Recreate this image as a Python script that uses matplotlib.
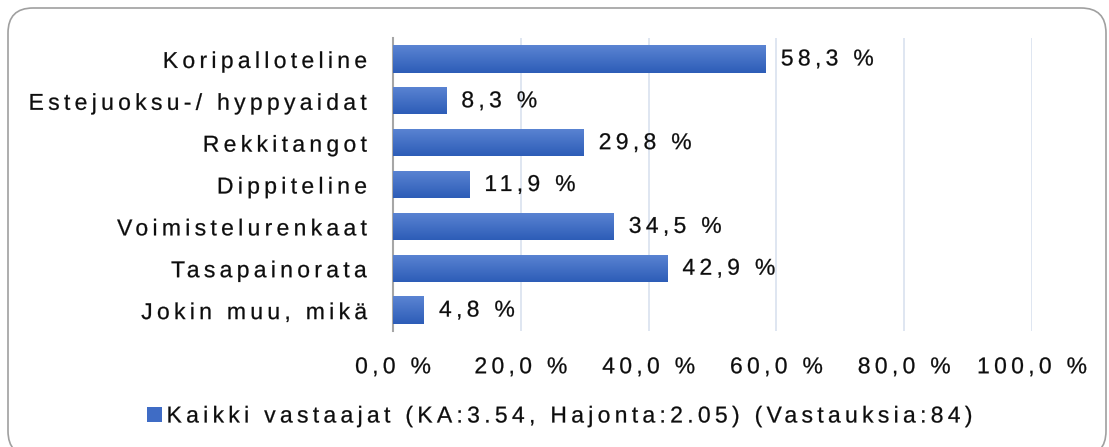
"""Horizontal bar chart: share of respondents per equipment type."""

import matplotlib
matplotlib.use("Agg")
import matplotlib.pyplot as plt
import numpy as np
from matplotlib.patches import FancyBboxPatch, Patch
from matplotlib.colors import LinearSegmentedColormap
from matplotlib.patheffects import AbstractPathEffect
from matplotlib.path import Path
from matplotlib.textpath import text_to_path

categories = [
    "Koripalloteline",
    "Estejuoksu-/ hyppyaidat",
    "Rekkitangot",
    "Dippiteline",
    "Voimistelurenkaat",
    "Tasapainorata",
    "Jokin muu, mikä",
]
values = [58.3, 8.3, 29.8, 11.9, 34.5, 42.9, 4.8]
xticks = [0, 20, 40, 60, 80, 100]
series_label = "Kaikki vastaajat (KA:3.54, Hajonta:2.05) (Vastauksia:84)"

FONT = "Liberation Sans"
FS = 16.5
TXT = "#0d0d0d"
SPACING = 18.8  # extra letter spacing, in text-path units (100 = 1 em)


class Tracking(AbstractPathEffect):
    """Widen letter spacing by shifting each glyph of the text path."""

    def __init__(self, text, spacing, align, stroke=0.18):
        super().__init__()
        self.text = text
        self.spacing = spacing
        self.align = align
        self.stroke = stroke

    def _glyph_slices(self, verts, codes):
        # exact glyph -> vertex ranges from the same layout TextPath uses
        try:
            font = text_to_path._get_font(self.text.get_fontproperties())
            info, gmap, _ = text_to_path.get_glyphs_with_font(font, self.text.get_text())
            counts = [len(gmap[g[0]][0]) for g in info]
            if sum(counts) == len(verts):
                edges = np.concatenate([[0], np.cumsum(counts)])
                return [(edges[i], edges[i + 1]) for i in range(len(counts))]
        except Exception:
            pass
        # fallback: one slice per contour
        starts = list(np.where(codes == Path.MOVETO)[0])
        return list(zip(starts, starts[1:] + [len(codes)]))

    def draw_path(self, renderer, gc, tpath, affine, rgbFace=None):
        verts = tpath.vertices.copy()
        codes = tpath.codes
        if codes is None or len(verts) == 0:
            renderer.draw_path(gc, tpath, affine, rgbFace)
            return
        slices = self._glyph_slices(verts, codes)
        n = len(slices)
        ref = {"left": 0, "right": n - 1, "center": (n - 1) / 2}[self.align]
        for i, (s, e) in enumerate(slices):
            verts[s:e, 0] += (i - ref) * self.spacing
        # thin outline in the text colour gives the hinted-font weight
        gc0 = renderer.new_gc()
        gc0.copy_properties(gc)
        gc0.set_linewidth(self.stroke)
        gc0.set_foreground(rgbFace)
        renderer.draw_path(gc0, Path(verts, codes), affine, rgbFace)
        gc0.restore()


def track(text, align):
    text.set_path_effects([Tracking(text, SPACING, align)])


fig = plt.figure(figsize=(11.09, 4.47), dpi=100)
ax = fig.add_axes([0.3544, 0.2595, 0.5762, 0.6555])

y = np.arange(len(categories))
bars = ax.barh(y, values, height=0.65, color="#3F6CC5", zorder=2)

# Vertical gradient inside each bar (lighter top, darker bottom)
cmap = LinearSegmentedColormap.from_list("bar", ["#5B84D3", "#2D5DB7"])
grad = np.linspace(0, 1, 64).reshape(-1, 1)
for b in bars:
    x0, y0 = b.get_x(), b.get_y()
    w, h = b.get_width(), b.get_height()
    im = ax.imshow(grad, cmap=cmap, aspect="auto", origin="upper",
                   extent=(x0, x0 + w, y0 + h, y0), zorder=3)
    im.set_clip_path(b)

for yi, v in zip(y, values):
    t = ax.annotate(f"{v:.1f} %".replace(".", ","), xy=(v, yi), xytext=(11, 0),
                    textcoords="offset points", va="center", ha="left",
                    fontsize=FS, family=FONT, color=TXT, zorder=4)
    track(t, "left")

ax.set_xlim(0, 100)
ax.set_ylim(len(categories) - 0.5, -0.5)
ax.set_xticks(xticks)
ax.set_xticklabels([f"{t:.1f} %".replace(".", ",") for t in xticks],
                   fontsize=FS, family=FONT, color=TXT)
ax.set_yticks(y)
ax.set_yticklabels(categories, fontsize=FS, family=FONT, color=TXT)
for lab in ax.get_xticklabels():
    track(lab, "center")
for lab in ax.get_yticklabels():
    track(lab, "right")
ax.tick_params(axis="y", length=0, pad=19)
ax.tick_params(axis="x", length=0, pad=17.5)
ax.grid(axis="x", color="#D9E1EF", linewidth=1.2, zorder=0)
ax.set_axisbelow(True)
for s in ("top", "right", "bottom"):
    ax.spines[s].set_visible(False)
ax.spines["left"].set_color("#A6A6A6")
ax.spines["left"].set_linewidth(1.5)

handle = Patch(facecolor="#3F6CC5", edgecolor="none")
leg = fig.legend([handle], [series_label], loc="center left",
                 bbox_to_anchor=(0.1326, 0.0694), frameon=False,
                 borderpad=0, borderaxespad=0,
                 handlelength=0.65, handleheight=0.65, handletextpad=0.2,
                 prop={"family": FONT, "size": FS})
for t in leg.get_texts():
    t.set_color(TXT)
    track(t, "left")

# Rounded chart border (inches; bottom edge runs just below the image)
border = FancyBboxPatch((0.08, -0.09), 10.98, 4.48,
                        boxstyle="round,pad=0,rounding_size=0.25",
                        transform=fig.dpi_scale_trans, fill=False,
                        edgecolor="#A0A0A0", linewidth=1.2)
fig.patches.append(border)

fig.savefig("out.png", dpi=100)
